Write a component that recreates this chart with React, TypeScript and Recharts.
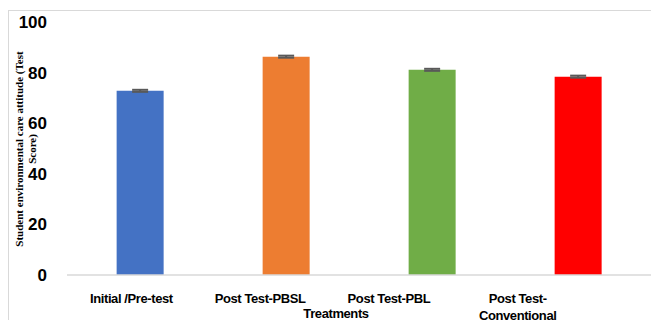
import React from "react";
import { BarChart, Bar, XAxis, YAxis, Cell, ErrorBar, Label } from "recharts";

const treatments = ["Initial /Pre-test", "Post Test-PBSL", "Post Test-PBL", "Post Test-Conventional"];
const scores = [72.8, 86.3, 81.1, 78.4];
const errors = [0.4, 0.4, 0.4, 0.4];
const barColors = ["#4472C4", "#ED7D31", "#70AD47", "#FF0000"];
const yTicks = [0, 20, 40, 60, 80, 100];

const data = treatments.map((t, i) => ({ name: t, score: scores[i], err: errors[i] }));

const sans = "'Liberation Sans', Arial, sans-serif";
const plotLeft = 67;
// the original's category labels sit on a slightly compressed band, drifting left of the bars
const labelSqueeze = 0.882;

// long labels wrap after the hyphen, like the original
function splitLabel(s: string) {
  if (s.length <= 18) return [s];
  const i = s.lastIndexOf("-");
  return [s.slice(0, i + 1), s.slice(i + 1)];
}

const CategoryTick = (props: any) => {
  const { x, y, payload } = props;
  const lx = plotLeft + (x - plotLeft) * labelSqueeze;
  const lines = splitLabel(payload.value);
  return (
    <text x={lx} y={y} textAnchor="middle" fontFamily={sans} fontWeight="bold" fontSize={13} letterSpacing={-0.4} fill="#000">
      {lines.map((l, i) => (
        <tspan key={i} x={lx} dy={i === 0 ? 26 : 17}>
          {l}
        </tspan>
      ))}
    </text>
  );
};

export default function App() {
  return (
    <div style={{ position: "absolute", left: 0, top: 0, width: 651, height: 320, background: "#fff", overflow: "hidden" }}>
      <div style={{ position: "absolute", left: 8, top: 10, width: 700, height: 400, border: "1px solid #d9d9d9" }} />
      <div style={{ position: "absolute", left: 0, top: 0 }}>
        <BarChart width={651} height={320} data={data} margin={{ top: 22, right: 0, left: 0, bottom: 0 }} barCategoryGap="34%">
          <XAxis
            dataKey="name"
            height={45}
            axisLine={{ stroke: "#d9d9d9", strokeWidth: 1.5 }}
            tickLine={false}
            tickSize={0}
            interval={0}
            tick={<CategoryTick />}
          >
            <Label
              content={() => (
                <text x={336} y={318} textAnchor="middle" fontFamily={sans} fontWeight="bold" fontSize={13} letterSpacing={-0.4} fill="#000">
                  Treatments
                </text>
              )}
            />
          </XAxis>
          <YAxis
            width={plotLeft}
            domain={[0, 100]}
            ticks={yTicks}
            axisLine={false}
            tickLine={false}
            tickSize={0}
            tickMargin={20}
            tick={{ fontFamily: sans, fontWeight: "bold", fontSize: 17, fill: "#000" }}
          >
            <Label
              content={() => (
                <text
                  transform="translate(26,149) rotate(-90)"
                  textAnchor="middle"
                  fontFamily="'Liberation Serif', 'Times New Roman', serif"
                  fontWeight="bold"
                  fontSize={11}
                  fill="#000"
                >
                  <tspan x={0} dy={-3}>Student environmental care attitude (Test</tspan>
                  <tspan x={0} dy={13}>Score)</tspan>
                </text>
              )}
            />
          </YAxis>
          <Bar dataKey="score" isAnimationActive={false}>
            {data.map((d, i) => (
              <Cell key={d.name} fill={barColors[i]} />
            ))}
            <ErrorBar dataKey="err" width={8} stroke="#595959" strokeWidth={2} direction="y" />
          </Bar>
        </BarChart>
      </div>
    </div>
  );
}
